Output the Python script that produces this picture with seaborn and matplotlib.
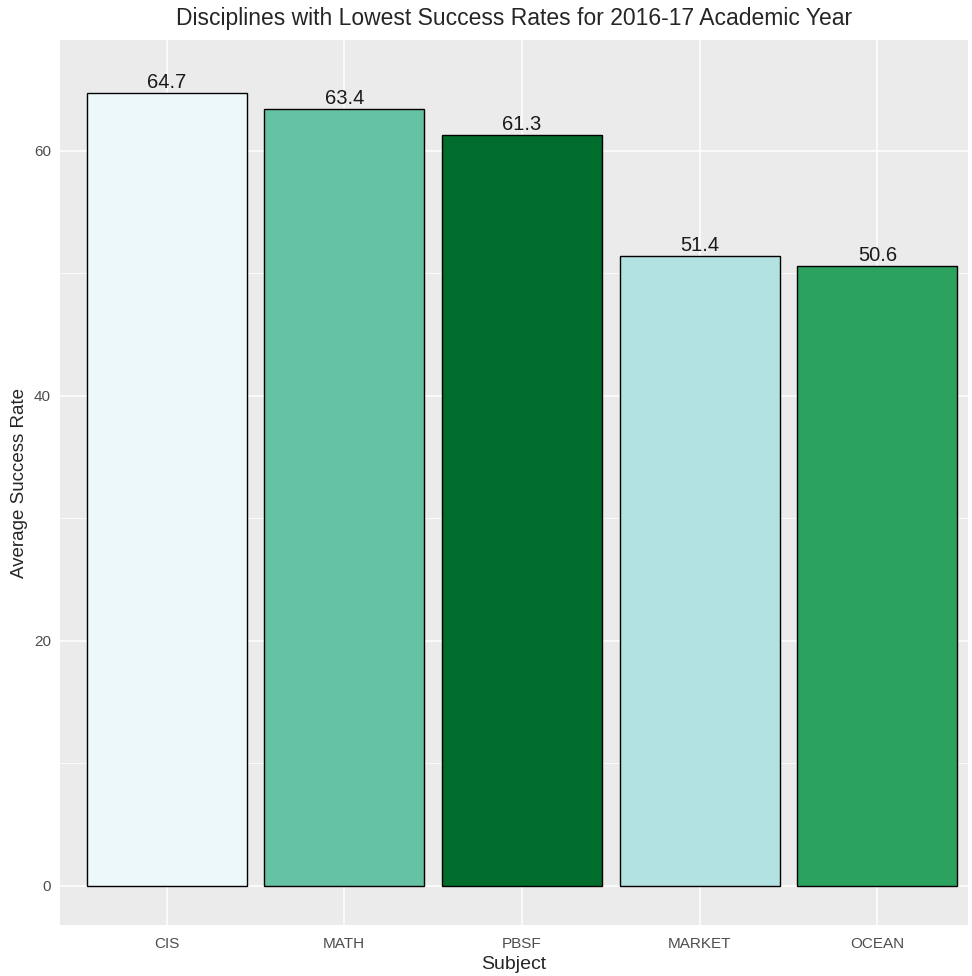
import pandas as pd
import seaborn as sns
import matplotlib.pyplot as plt

subjects = ["CIS", "MATH", "PBSF", "MARKET", "OCEAN"]
success_rates = [64.7, 63.4, 61.3, 51.4, 50.6]
# fill mapped alphabetically through BuGn(5), like ggplot does
fill_order = sorted(subjects)
bugn = ["#EDF8FB", "#B2E2E2", "#66C2A4", "#2CA25F", "#006D2C"]
palette = dict(zip(fill_order, bugn))

df = pd.DataFrame({"Subject": subjects, "Rate": success_rates})

sns.set_style("darkgrid", {"axes.facecolor": "#EBEBEB", "grid.color": "white"})
plt.rcParams["font.family"] = ["Liberation Sans", "DejaVu Sans"]

fig = plt.figure(figsize=(9.72, 9.76), dpi=100)
ax = fig.add_axes([60 / 972, 1 - 925 / 976, 908 / 972, 885 / 976])

sns.barplot(data=df, x="Subject", y="Rate", hue="Subject", palette=palette,
            order=subjects, width=0.9, edgecolor="black", linewidth=1.0,
            legend=False, ax=ax, saturation=1)

for i, v in enumerate(success_rates):
    ax.text(i, v + 0.1, f"{v}", ha="center", va="bottom", fontsize=14.5, color="#1a1a1a")

ax.set_xlim(-0.6, 4.51)
ax.set_ylim(-3.2, 69.05)
ax.set_yticks([0, 20, 40, 60])
ax.set_yticks([10, 30, 50], minor=True)
ax.grid(which="major", color="white", linewidth=1.1)
ax.grid(which="minor", axis="y", color="white", linewidth=0.55)
ax.set_axisbelow(True)
for s in ax.spines.values():
    s.set_visible(False)
ax.tick_params(axis="both", which="major", length=3.5, width=1, color="#333333",
               labelsize=11, labelcolor="#4D4D4D", pad=3)
ax.tick_params(axis="x", which="major", pad=5)
ax.tick_params(axis="y", which="minor", length=0)

ax.set_xlabel("Subject", fontsize=14, labelpad=4)
ax.set_ylabel("Average Success Rate", fontsize=13.5, labelpad=4)
ax.set_title("Disciplines with Lowest Success Rates for 2016-17 Academic Year",
             fontsize=16.5, pad=11)

fig.savefig("out.png", dpi=100)
